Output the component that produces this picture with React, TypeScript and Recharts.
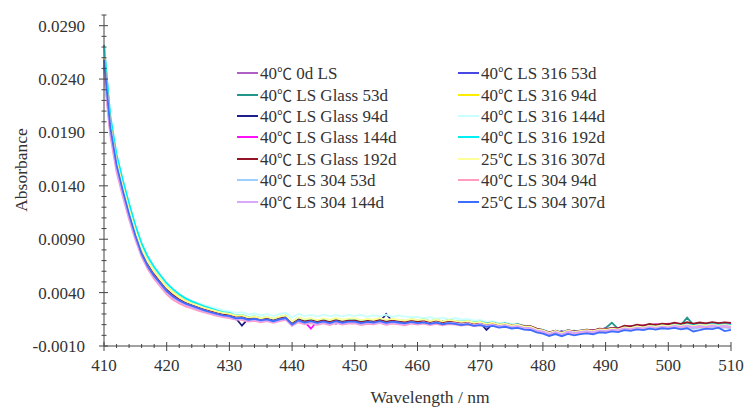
import { LineChart, Line, XAxis, YAxis } from "recharts"

document.body.style.margin = "0"

const FONT = '"Liberation Serif", "Times New Roman", "Noto Sans CJK SC", serif'
const CJK = '"Noto Sans CJK SC", "Noto Sans CJK JP", sans-serif'
const INK = "#333"
const AXIS = "#444"

// wavelength, nm
const wavelengths = [
  410, 411, 412, 413, 414, 415, 416, 417, 418, 419,
  420, 421, 422, 423, 424, 425, 426, 427, 428, 429,
  430, 431, 432, 433, 434, 435, 436, 437, 438, 439,
  440, 441, 442, 443, 444, 445, 446, 447, 448, 449,
  450, 451, 452, 453, 454, 455, 456, 457, 458, 459,
  460, 461, 462, 463, 464, 465, 466, 467, 468, 469,
  470, 471, 472, 473, 474, 475, 476, 477, 478, 479,
  480, 481, 482, 483, 484, 485, 486, 487, 488, 489,
  490, 491, 492, 493, 494, 495, 496, 497, 498, 499,
  500, 501, 502, 503, 504, 505, 506, 507, 508, 509, 510,
]

// absorbance, in units of 1e-5
const ls0d = [
  2520, 1930, 1580, 1340, 1120, 925, 760, 640, 550, 478,
  410, 362, 322, 292, 272, 250, 232, 215, 198, 186,
  176, 168, 152, 160, 142, 150, 136, 146, 152, 150,
  112, 140, 122, 130, 118, 134, 120, 128, 112, 132,
  120, 128, 114, 134, 118, 126, 136, 120, 130, 116,
  126, 134, 118, 122, 130, 112, 126, 118, 108, 120,
  104, 112, 96, 104, 92, 100, 84, 88, 72, 56,
  40, 18, 34, 24, 30, 42, 26, 44, 36, 50,
  46, 58, 52, 70, 62, 80, 72, 86, 78, 92,
  86, 98, 90, 102, 88, 100, 94, 108, 96, 104, 98,
]
const ls316d53 = [
  2580, 1955, 1600, 1360, 1140, 940, 770, 650, 560, 490,
  420, 370, 330, 300, 280, 258, 238, 220, 204, 190,
  182, 164, 168, 150, 158, 144, 150, 138, 154, 160,
  106, 144, 126, 136, 122, 132, 118, 136, 124, 130,
  134, 118, 130, 124, 138, 122, 132, 126, 118, 134,
  122, 130, 126, 116, 132, 120, 128, 112, 122, 106,
  114, 100, 108, 96, 104, 88, 96, 80, 74, 52,
  36, 28, 22, 38, 26, 40, 30, 46, 38, 52,
  50, 62, 54, 72, 66, 74, 84, 76, 92, 82,
  96, 88, 100, 92, 98, 90, 104, 94, 98, 102, 90,
]
const glass53 = [
  2720, 2010, 1630, 1380, 1150, 950, 775, 652, 560, 488,
  418, 368, 326, 296, 276, 255, 236, 218, 202, 188,
  170, 174, 150, 158, 140, 154, 136, 148, 144, 166,
  96, 132, 138, 112, 128, 122, 134, 110, 128, 120,
  130, 116, 128, 136, 120, 128, 118, 134, 124, 118,
  132, 120, 128, 122, 114, 130, 120, 126, 108, 118,
  102, 110, 98, 106, 94, 100, 86, 90, 70, 60,
  32, 30, 26, 34, 28, 44, 32, 40, 48, 46,
  70, 118, 60, 74, 66, 84, 78, 90, 84, 94,
  90, 100, 96, 166, 98, 108, 96, 104, 110, 98, 104,
]
const ls316d94 = [
  2650, 2020, 1660, 1420, 1200, 1000, 830, 705, 610, 535,
  462, 408, 362, 326, 300, 278, 256, 238, 220, 206,
  196, 180, 186, 166, 172, 158, 168, 152, 170, 178,
  124, 160, 142, 152, 138, 150, 136, 154, 140, 148,
  150, 136, 146, 140, 154, 138, 148, 140, 134, 150,
  138, 146, 130, 144, 126, 140, 132, 122, 134, 116,
  124, 108, 116, 102, 110, 94, 100, 84, 80, 58,
  46, 26, 40, 20, 44, 30, 42, 50, 40, 58,
  54, 64, 56, 76, 70, 86, 76, 92, 84, 96,
  90, 102, 94, 106, 92, 104, 98, 108, 96, 104, 94,
]
const glass94 = [
  2570, 1950, 1595, 1355, 1135, 935, 766, 648, 558, 488,
  418, 366, 328, 298, 278, 256, 238, 220, 204, 190,
  180, 162, 90, 156, 144, 156, 138, 148, 142, 166,
  104, 146, 124, 134, 128, 138, 120, 132, 126, 136,
  124, 136, 122, 130, 126, 200, 132, 122, 134, 124,
  136, 122, 130, 118, 132, 124, 128, 114, 124, 110,
  118, 50, 108, 98, 104, 92, 98, 82, 80, 56,
  42, 22, 40, 26, 36, 38, 30, 50, 40, 56,
  50, 60, 58, 76, 68, 86, 74, 90, 86, 92,
  96, 90, 100, 94, 104, 96, 108, 92, 106, 98, 102,
]
const ls316d144 = [
  2690, 2040, 1680, 1440, 1220, 1015, 845, 720, 625, 550,
  478, 425, 382, 350, 326, 304, 284, 266, 250, 236,
  226, 210, 216, 196, 204, 186, 198, 180, 200, 212,
  168, 200, 180, 192, 176, 194, 178, 190, 176, 192,
  180, 192, 174, 188, 178, 194, 172, 186, 176, 170,
  172, 160, 170, 156, 166, 150, 164, 146, 154, 138,
  144, 124, 132, 114, 122, 102, 110, 88, 86, 60,
  50, 30, 46, 24, 50, 34, 46, 54, 42, 62,
  56, 68, 58, 80, 72, 90, 78, 96, 86, 98,
  92, 106, 94, 108, 96, 106, 100, 110, 98, 108, 96,
]
const glass144 = [
  2500, 1920, 1570, 1330, 1115, 920, 756, 638, 548, 476,
  406, 358, 318, 290, 268, 248, 228, 212, 196, 184,
  168, 158, 160, 140, 150, 136, 144, 128, 146, 152,
  100, 128, 126, 62, 134, 116, 128, 110, 132, 116,
  128, 114, 126, 120, 132, 116, 130, 120, 114, 130,
  118, 128, 114, 130, 112, 126, 122, 112, 124, 106,
  116, 102, 112, 96, 106, 90, 98, 82, 82, 58,
  46, 24, 42, 20, 46, 30, 42, 44, 50, 50,
  64, 52, 70, 74, 86, 84, 92, 90, 104, 92,
  108, 100, 106, 114, 100, 116, 106, 114, 108, 118, 104,
]
const ls316d192 = [
  2710, 2060, 1695, 1455, 1235, 1030, 860, 735, 640, 562,
  488, 432, 384, 346, 318, 294, 272, 252, 234, 218,
  210, 186, 190, 170, 178, 162, 170, 152, 172, 186,
  126, 164, 144, 156, 136, 152, 140, 158, 142, 150,
  154, 138, 150, 142, 156, 140, 150, 142, 136, 150,
  140, 148, 134, 146, 130, 144, 136, 128, 136, 120,
  128, 112, 120, 104, 114, 96, 104, 86, 84, 60,
  50, 26, 44, 22, 48, 32, 44, 52, 42, 60,
  58, 66, 60, 80, 74, 92, 80, 96, 90, 100,
  94, 108, 96, 112, 98, 110, 102, 112, 100, 110, 98,
]
const glass192 = [
  2590, 1975, 1615, 1375, 1155, 955, 785, 665, 575, 502,
  430, 378, 336, 304, 282, 262, 242, 224, 208, 194,
  186, 168, 170, 152, 160, 146, 156, 138, 158, 170,
  108, 148, 130, 140, 128, 140, 126, 142, 128, 138,
  140, 124, 136, 130, 144, 128, 140, 130, 124, 138,
  128, 138, 122, 136, 120, 134, 130, 120, 128, 112,
  122, 106, 116, 100, 110, 94, 102, 86, 86, 62,
  48, 28, 44, 24, 48, 34, 44, 52, 44, 62,
  58, 70, 66, 90, 84, 100, 90, 106, 98, 110,
  104, 118, 108, 122, 110, 120, 112, 124, 114, 122, 116,
]
const ls316d307 = [
  2600, 1985, 1630, 1395, 1175, 975, 808, 688, 595, 522,
  450, 398, 356, 322, 298, 278, 258, 240, 224, 210,
  204, 184, 188, 168, 176, 160, 172, 156, 176, 186,
  130, 168, 150, 160, 142, 158, 144, 162, 146, 156,
  158, 142, 154, 146, 160, 144, 154, 146, 138, 152,
  142, 150, 134, 148, 130, 144, 136, 126, 134, 118,
  126, 108, 118, 102, 110, 92, 100, 82, 82, 56,
  46, 24, 42, 20, 46, 30, 42, 48, 40, 56,
  52, 62, 56, 74, 68, 84, 74, 88, 82, 92,
  86, 98, 88, 100, 86, 98, 92, 100, 90, 98, 88,
]
const ls304d53 = [
  2560, 1940, 1585, 1345, 1125, 928, 762, 644, 552, 482,
  412, 362, 324, 294, 274, 252, 232, 214, 198, 184,
  178, 160, 162, 142, 152, 138, 146, 130, 148, 160,
  98, 136, 116, 128, 112, 126, 110, 128, 114, 124,
  124, 110, 122, 116, 128, 112, 124, 116, 108, 124,
  114, 122, 108, 122, 104, 118, 112, 102, 112, 94,
  104, 88, 98, 82, 90, 74, 82, 64, 64, 40,
  30, 8, 26, 4, 30, 14, 26, 30, 22, 40,
  36, 46, 40, 58, 50, 66, 56, 70, 62, 74,
  64, 78, 66, 80, 62, 72, 64, 78, 66, 74, 62,
]
const ls304d94 = [
  2450, 1870, 1530, 1300, 1085, 895, 735, 618, 528, 456,
  384, 334, 298, 270, 252, 232, 214, 198, 182, 170,
  162, 148, 144, 128, 136, 122, 132, 116, 134, 144,
  88, 122, 102, 114, 98, 112, 96, 116, 100, 110,
  112, 96, 108, 102, 116, 98, 110, 102, 94, 110,
  100, 110, 96, 108, 94, 106, 100, 92, 100, 86,
  96, 82, 92, 76, 86, 70, 78, 62, 60, 38,
  28, 6, 26, 4, 30, 14, 26, 32, 24, 42,
  38, 48, 42, 60, 52, 68, 58, 72, 66, 76,
  70, 82, 72, 86, 72, 82, 74, 86, 76, 84, 72,
]
const ls304d144 = [
  2480, 1900, 1555, 1320, 1105, 912, 750, 632, 542, 470,
  400, 352, 314, 286, 264, 244, 226, 208, 192, 180,
  170, 150, 156, 136, 144, 130, 140, 124, 140, 152,
  94, 130, 112, 122, 106, 120, 106, 122, 108, 118,
  120, 104, 116, 110, 122, 106, 118, 110, 102, 118,
  108, 118, 104, 116, 100, 112, 108, 98, 108, 92,
  104, 88, 98, 84, 94, 78, 86, 70, 68, 46,
  36, 14, 32, 10, 36, 22, 32, 38, 30, 46,
  42, 54, 48, 64, 58, 72, 64, 78, 70, 82,
  74, 88, 78, 90, 76, 88, 80, 92, 82, 90, 78,
]
const ls304d307 = [
  2580, 1950, 1595, 1355, 1135, 935, 765, 645, 555, 486,
  415, 364, 326, 296, 276, 254, 234, 216, 200, 186,
  180, 158, 164, 146, 154, 140, 150, 132, 150, 162,
  100, 140, 120, 132, 116, 130, 114, 132, 118, 128,
  128, 114, 126, 120, 132, 116, 128, 120, 112, 126,
  114, 122, 108, 118, 104, 114, 108, 96, 104, 88,
  96, 80, 88, 72, 80, 64, 70, 54, 50, 28,
  16, -6, 12, -8, 14, 0, 12, 18, 10, 28,
  24, 36, 30, 48, 42, 56, 48, 62, 54, 66,
  60, 70, 56, 66, 36, 48, 62, 58, 72, 40, 50,
]

// drawing order (also the legend, read row by row in two columns)
const seriesNames = [
  "40℃ 0d LS", "40℃ LS 316 53d",
  "40℃ LS Glass 53d", "40℃ LS 316 94d",
  "40℃ LS Glass 94d", "40℃ LS 316 144d",
  "40℃ LS Glass 144d", "40℃ LS 316 192d",
  "40℃ LS Glass 192d", "25℃ LS 316 307d",
  "40℃ LS 304 53d", "40℃ LS 304 94d",
  "40℃ LS 304 144d", "25℃ LS 304 307d",
]
const seriesColors = [
  "#B060C4", "#4848E4",
  "#22968A", "#FFEE00",
  "#1E1E8A", "#C8FFFF",
  "#FF10F8", "#00F0F4",
  "#961428", "#FFFF99",
  "#9CCEFF", "#FF9CC0",
  "#D8A8FF", "#3D6DFF",
]
const seriesValues = [
  ls0d, ls316d53, glass53, ls316d94, glass94, ls316d144, glass144,
  ls316d192, glass192, ls316d307, ls304d53, ls304d94, ls304d144, ls304d307,
]

const xMajor = [410, 420, 430, 440, 450, 460, 470, 480, 490, 500, 510]
const xTicks = [
  410, 412, 414, 416, 418, 420, 422, 424, 426, 428, 430, 432, 434, 436, 438, 440, 442, 444, 446, 448,
  450, 452, 454, 456, 458, 460, 462, 464, 466, 468, 470, 472, 474, 476, 478, 480, 482, 484, 486, 488,
  490, 492, 494, 496, 498, 500, 502, 504, 506, 508, 510,
]
const yMajor = [-0.001, 0.004, 0.009, 0.014, 0.019, 0.024, 0.029]
const yTicks = [
  -0.001, 0, 0.001, 0.002, 0.003, 0.004, 0.005, 0.006, 0.007, 0.008, 0.009, 0.01, 0.011, 0.012, 0.013,
  0.014, 0.015, 0.016, 0.017, 0.018, 0.019, 0.02, 0.021, 0.022, 0.023, 0.024, 0.025, 0.026, 0.027,
  0.028, 0.029, 0.03,
]

const data = wavelengths.map((wl, i) => {
  const row: Record<string, number> = { wl }
  seriesValues.forEach((s, k) => {
    row[`s${k}`] = s[i] / 1e5
  })
  return row
})

function XTick({ x, y, payload }: any) {
  const major = xMajor.includes(payload.value)
  return (
    <g>
      <line x1={x} x2={x} y1={y - (major ? 4 : 2)} y2={y + (major ? 5 : 2)} stroke={AXIS} strokeWidth={1} />
      {major && (
        <text x={x} y={y + 19} dy="0.35em" textAnchor="middle" fontSize={17} fontFamily={FONT} fill={INK}>
          {payload.value}
        </text>
      )}
    </g>
  )
}

function YTick({ x, y, payload }: any) {
  const major = yMajor.includes(payload.value)
  return (
    <g>
      <line x1={x - (major ? 5 : 2.5)} x2={x + (major ? 4 : 2.5)} y1={y} y2={y} stroke={AXIS} strokeWidth={1} />
      {major && (
        <text x={x - 19} y={y} dy="0.35em" textAnchor="end" fontSize={17} fontFamily={FONT} fill={INK}>
          {payload.value.toFixed(4)}
        </text>
      )}
    </g>
  )
}

function LegendLabel({ name }: { name: string }) {
  const [a, b] = name.split("℃")
  return (
    <span>
      {a}
      <span style={{ fontFamily: CJK, fontSize: 15 }}>℃</span>
      {b}
    </span>
  )
}

export default function App() {
  return (
    <div style={{ position: "relative", width: 745, height: 407, background: "#fff" }}>
      <LineChart width={745} height={407} data={data} margin={{ top: 15, right: 14, bottom: 0, left: 0 }}>
        <XAxis
          dataKey="wl"
          type="number"
          domain={[410, 510]}
          ticks={xTicks}
          interval={0}
          height={61}
          tickSize={0}
          tickMargin={0}
          tickLine={false}
          axisLine={{ stroke: AXIS }}
          tick={<XTick />}
          label={{
            content: () => (
              <text x={430} y={397} dy="0.35em" textAnchor="middle" fontSize={17.5} fontFamily={FONT} fill={INK}>
                Wavelength / nm
              </text>
            ),
          }}
        />
        <YAxis
          type="number"
          domain={[-0.001, 0.03]}
          ticks={yTicks}
          interval={0}
          width={104}
          tickSize={0}
          tickMargin={0}
          tickLine={false}
          axisLine={{ stroke: AXIS }}
          tick={<YTick />}
          allowDataOverflow
          label={{
            content: () => (
              <text
                x={21}
                y={170}
                dy="0.35em"
                textAnchor="middle"
                transform="rotate(-90 21 170)"
                fontSize={17.5}
                fontFamily={FONT}
                fill={INK}
              >
                Absorbance
              </text>
            ),
          }}
        />
        {seriesNames.map((name, k) => (
          <Line
            key={name}
            name={name}
            dataKey={`s${k}`}
            type="linear"
            stroke={seriesColors[k]}
            strokeWidth={1.8}
            dot={false}
            isAnimationActive={false}
          />
        ))}
      </LineChart>
      <div
        style={{
          position: "absolute",
          left: 237,
          top: 62.5,
          display: "grid",
          gridTemplateColumns: "221px 221px",
          gridAutoRows: "21.4px",
          fontFamily: FONT,
          fontSize: 17,
          color: INK,
        }}
      >
        {seriesNames.map((name, k) => (
          <div key={name} style={{ display: "flex", alignItems: "center", whiteSpace: "nowrap" }}>
            <span style={{ display: "inline-block", width: 21, height: 2, background: seriesColors[k], marginRight: 2 }} />
            <LegendLabel name={name} />
          </div>
        ))}
      </div>
    </div>
  )
}
